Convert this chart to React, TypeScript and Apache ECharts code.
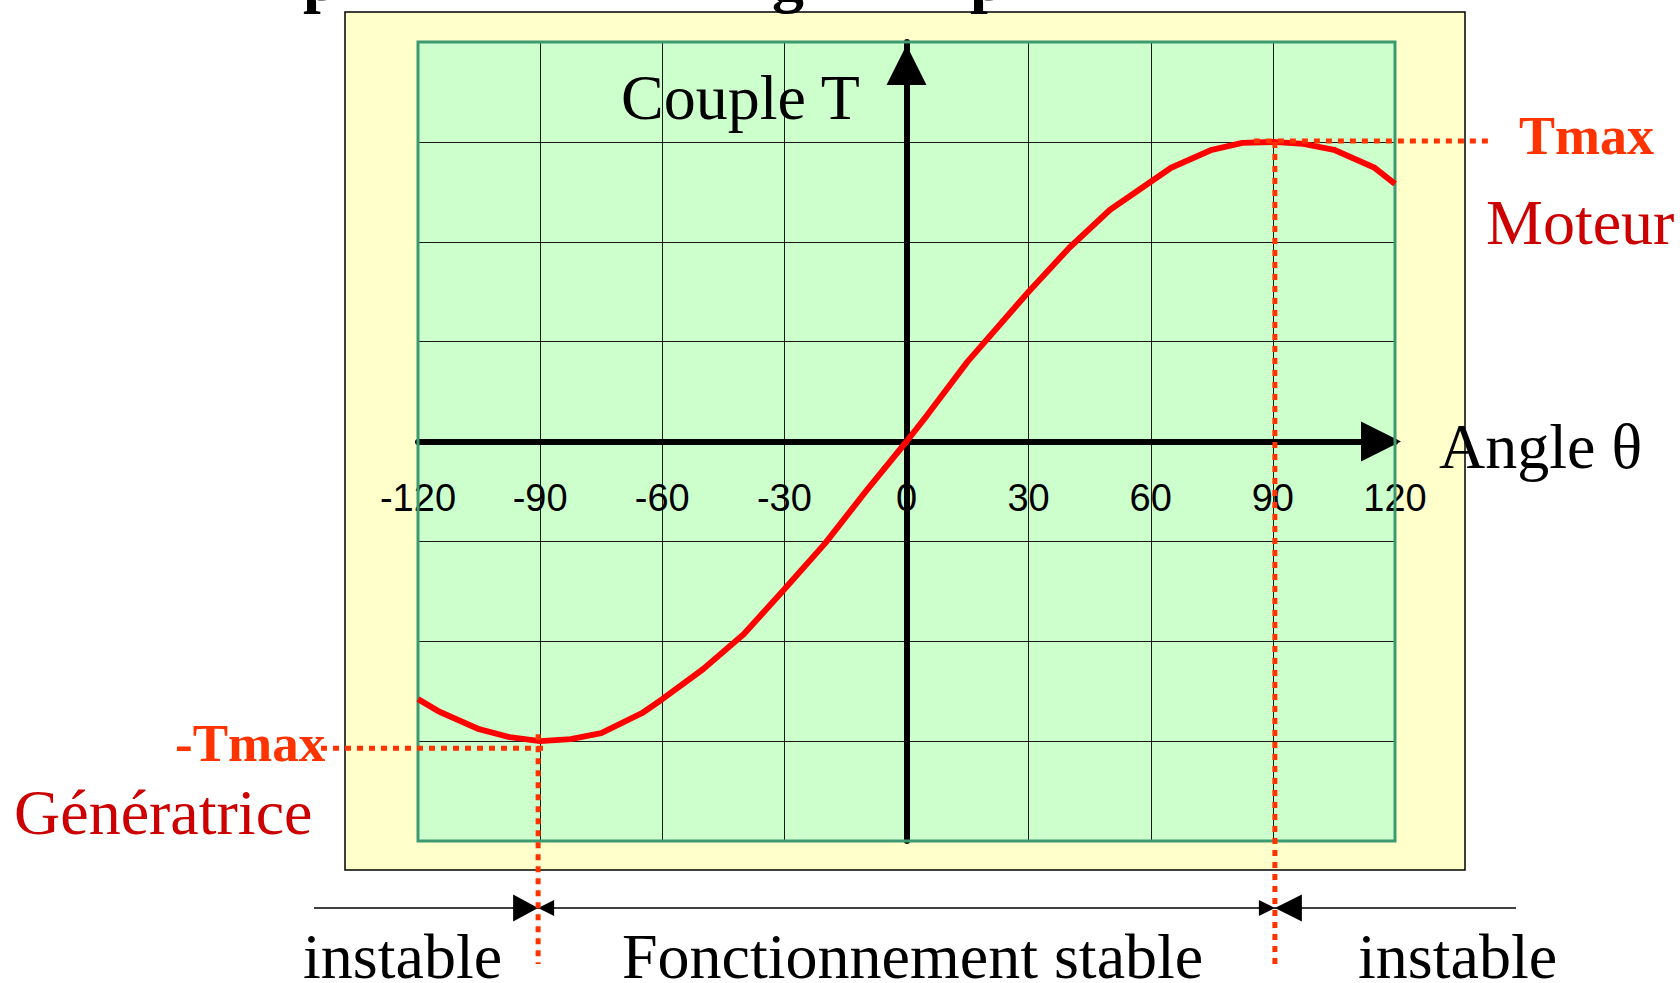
import React, { useEffect, useRef } from "react";
import * as echarts from "echarts";

// Angle θ (degrees) and torque T (grid units, Tmax = 3)
const angleDeg = [-120, -115, -105, -97.5, -90, -82.5, -75, -65, -60, -50, -40, -30, -20, -10, 0, 5, 15, 30, 40, 50, 65, 75, 82.5, 90, 97.5, 105, 115, 120];
const torque = [-2.58, -2.7, -2.88, -2.96, -3.0, -2.98, -2.92, -2.72, -2.58, -2.28, -1.93, -1.48, -1.02, -0.5, 0, 0.26, 0.8, 1.5, 1.94, 2.32, 2.74, 2.92, 2.99, 3.0, 2.98, 2.92, 2.74, 2.58];
const xRange = [-120, 120];
const xStep = 30;
const yRange = [-4, 4];
const yStep = 1;
const tMax = 3;
const tMaxAngle = 90;

const SERIF = '"Liberation Serif", "Times New Roman", serif';
const SANS = '"Liberation Sans", Arial, sans-serif';

export default function App() {
  const ref = useRef<HTMLDivElement>(null);
  useEffect(() => {
    const chart = echarts.init(ref.current!, null, { renderer: "svg" });
    const grid = { left: 418, top: 42, width: 977, height: 799 };
    // move the x axis (line + labels) up to the T = 0 line
    const xAxisOffset = -grid.height / 2;
    chart.setOption({
      animation: false,
      grid: { ...grid, containLabel: false },
      xAxis: {
        type: "value",
        min: xRange[0],
        max: xRange[1],
        interval: xStep,
        offset: xAxisOffset,
        axisLine: {
          onZero: false,
          symbol: ["none", "triangle"],
          symbolSize: [40, 40],
          symbolOffset: [0, -14],
          lineStyle: { color: "#000", width: 6 },
        },
        axisTick: { show: false },
        axisLabel: {
          margin: 37,
          fontSize: 38,
          fontFamily: SANS,
          color: "#000",
          showMinLabel: true,
          showMaxLabel: true,
        },
        splitLine: { show: true, lineStyle: { color: "#1a1a1a", width: 1 } },
      },
      yAxis: {
        type: "value",
        min: yRange[0],
        max: yRange[1],
        interval: yStep,
        axisLine: {
          onZero: true,
          symbol: ["none", "triangle"],
          symbolSize: [40, 40],
          symbolOffset: [0, -23],
          lineStyle: { color: "#000", width: 6 },
        },
        axisTick: { show: false },
        axisLabel: { show: false },
        splitLine: { show: true, lineStyle: { color: "#1a1a1a", width: 1 } },
      },
      series: [
        {
          type: "line",
          data: angleDeg.map((a, i) => [a, torque[i]]),
          showSymbol: false,
          smooth: false,
          lineStyle: { color: "#FF0000", width: 6 },
          z: 3,
        },
      ],
    });

    const px = (x: number, y: number) => chart.convertToPixel({ gridIndex: 0 }, [x, y]) as number[];
    const pMax = px(tMaxAngle, tMax);
    const pMin = px(-tMaxAngle, -tMax);
    const dot = { stroke: "#FF3300", lineWidth: 5, lineDash: [6, 6] };
    const dimY = 908;
    const txt = (text: string, x: number, y: number, font: string, fill: string) => ({
      type: "text",
      z: 50,
      x,
      y,
      style: { text, font, fill, align: "left", verticalAlign: "middle" },
    });
    const xL = pMin[0] - 2;
    const xR = pMax[0] + 2;

    chart.setOption({
      graphic: {
        elements: [
          {
            type: "rect",
            z: -10,
            shape: { x: 345, y: 12, width: 1120, height: 858 },
            style: { fill: "#FFFFCC", stroke: "#000", lineWidth: 1.5 },
          },
          {
            type: "rect",
            z: -9,
            shape: { x: grid.left, y: grid.top, width: grid.width, height: grid.height },
            style: { fill: "#CCFFCC" },
          },
          {
            type: "rect",
            z: 1,
            shape: { x: grid.left, y: grid.top, width: grid.width, height: grid.height },
            style: { fill: "none", stroke: "#3D9970", lineWidth: 3 },
          },
          // title fragments cut by the top edge
          txt("p", 303, -22, `bold 64px ${SERIF}`, "#000"),
          txt("g", 772, -22, `bold 64px ${SERIF}`, "#000"),
          txt("p", 970, -22, `bold 64px ${SERIF}`, "#000"),
          // dotted guides
          { type: "line", z: 40, shape: { x1: pMax[0] - 19, y1: pMax[1] - 1, x2: 1492, y2: pMax[1] - 1 }, style: dot },
          { type: "line", z: 40, shape: { x1: xR, y1: pMax[1], x2: xR, y2: 970 }, style: dot },
          { type: "line", z: 40, shape: { x1: 321, y1: pMin[1] + 7, x2: pMin[0] + 8, y2: pMin[1] + 7 }, style: dot },
          { type: "line", z: 40, shape: { x1: xL, y1: pMin[1] - 7, x2: xL, y2: 964 }, style: dot },
          // dimension line
          { type: "line", z: 30, shape: { x1: 314, y1: dimY, x2: 1516, y2: dimY }, style: { stroke: "#000", lineWidth: 1.5 } },
          { type: "polygon", z: 31, shape: { points: [[xL - 25, dimY - 13.5], [xL - 25, dimY + 13.5], [xL, dimY]] }, style: { fill: "#000" } },
          { type: "polygon", z: 31, shape: { points: [[xL, dimY], [xL + 16, dimY - 8], [xL + 16, dimY + 8]] }, style: { fill: "#000" } },
          { type: "polygon", z: 31, shape: { points: [[xR - 16, dimY - 8], [xR - 16, dimY + 8], [xR, dimY]] }, style: { fill: "#000" } },
          { type: "polygon", z: 31, shape: { points: [[xR, dimY], [xR + 27, dimY - 13.5], [xR + 27, dimY + 13.5]] }, style: { fill: "#000" } },
          // labels
          txt("Couple T", 621, 97, `64px ${SERIF}`, "#000"),
          txt("Angle θ", 1439, 446, `64px ${SERIF}`, "#000"),
          txt("Tmax", 1519, 136, `bold 54px ${SERIF}`, "#FF3300"),
          txt("Moteur", 1486, 222, `64px ${SERIF}`, "#CC0000"),
          txt("-Tmax", 175, 743, `bold 53px ${SERIF}`, "#FF3300"),
          txt("Génératrice", 14, 812, `64px ${SERIF}`, "#CC0000"),
          txt("instable", 303, 956, `64px ${SERIF}`, "#000"),
          txt("Fonctionnement stable", 622, 956, `64px ${SERIF}`, "#000"),
          txt("instable", 1358, 956, `64px ${SERIF}`, "#000"),
        ],
      },
    });
    return () => chart.dispose();
  }, []);
  return (
    <div
      ref={ref}
      style={{ position: "fixed", left: 0, top: 0, width: 1680, height: 983, background: "#fff" }}
    />
  );
}
